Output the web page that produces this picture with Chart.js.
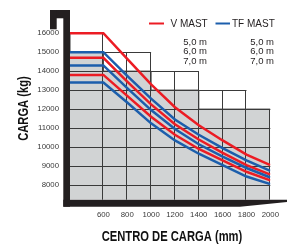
<!DOCTYPE html>
<html>
<head>
<meta charset="utf-8">
<script src="https://cdn.jsdelivr.net/npm/chart.js@4"></script>
<style>
  html, body { margin: 0; padding: 0; background: #fff; }
  #wrap { width: 289px; height: 244px; }
</style>
</head>
<body>
<div id="wrap"><canvas id="capChart" width="289" height="244"></canvas></div>
<script>
// load centre (mm) where each curve is sampled; 320 is the left edge of the plate
const loadCenters = [320, 600, 800, 1000, 1200, 1400, 1600, 1800, 2000];

// V MAST capacity (kg) for 5,0 / 6,0 / 7,0 m
const vMast50 = [16000, 16000, 14650, 13300, 12100, 11150, 10350, 9600, 9050];
const vMast60 = [14700, 14700, 13450, 12250, 11200, 10400, 9700, 9050, 8550];
const vMast70 = [13800, 13800, 12700, 11600, 10650, 9900, 9300, 8700, 8250];

// TF MAST capacity (kg)
const tfMast50 = [15000, 15000, 13750, 12550, 11450, 10650, 9950, 9300, 8750];
const tfMast60 = [14300, 14300, 13100, 11950, 10950, 10150, 9500, 8900, 8400];
const tfMast70 = [13400, 13400, 12350, 11250, 10350, 9650, 9050, 8450, 8050];

// grey stepped plate behind the curves
const stepX = [320, 600, 1000, 1400, 1800, 2000];
const stepTop = [16000, 15000, 14000, 13000, 12000, 12000];

const xTicks = [600, 800, 1000, 1200, 1400, 1600, 1800, 2000];
const yTicks = [8000, 9000, 10000, 11000, 12000, 13000, 14000, 15000, 16000];
const mastHeights = ['5,0 m', '6,0 m', '7,0 m'];

const RED = '#ec1c24';
const BLUE = '#1c5eac';
const sans = "'Liberation Sans', Arial, sans-serif";

const pts = vals => vals.map((v, i) => ({ x: loadCenters[i], y: v }));
const curve = (vals, color) => ({
    data: pts(vals),
    borderColor: color,
    borderWidth: 2.5,
    pointRadius: 0,
    tension: 0,
    fill: false,
    order: 0
});

// condensed bold text, like the printed sheet
function narrowText(ctx, text, x, y, rot) {
    ctx.save();
    ctx.translate(x, y);
    if (rot) ctx.rotate(rot);
    ctx.scale(0.8, 1);
    ctx.font = 'bold 14px ' + sans;
    ctx.fillStyle = '#111';
    ctx.textAlign = 'center';
    ctx.textBaseline = 'middle';
    ctx.fillText(text, 0, 0);
    ctx.restore();
}

const gridPlugin = {
    id: 'plateGrid',
    afterDatasetDraw(chart, args) {
        if (args.index !== 0) return;
        const ctx = chart.ctx;
        const xs = chart.scales.x, ys = chart.scales.y;
        ctx.save();
        ctx.strokeStyle = '#3a3a3a';
        ctx.lineWidth = 1;
        // vertical lines, up to the step on their left
        xTicks.forEach(c => {
            let h = stepTop[0];
            for (let i = 0; i < stepX.length - 1; i++) {
                if (c > stepX[i] && c <= stepX[i + 1]) h = stepTop[i];
            }
            const px = Math.round(xs.getPixelForValue(c)) - 0.5;
            ctx.beginPath();
            ctx.moveTo(px, ys.getPixelForValue(h));
            ctx.lineTo(px, ys.bottom);
            ctx.stroke();
        });
        // horizontal lines, as far right as the plate reaches
        yTicks.forEach(v => {
            let end = null;
            for (let i = 0; i < stepX.length - 1; i++) {
                if (stepTop[i] >= v) end = stepX[i + 1];
            }
            if (end === null) return;
            const py = Math.round(ys.getPixelForValue(v)) + 0.5;
            ctx.beginPath();
            ctx.moveTo(xs.left, py);
            ctx.lineTo(xs.getPixelForValue(end), py);
            ctx.stroke();
        });
        ctx.restore();
    },
    afterDraw(chart) {
        const ctx = chart.ctx;
        const L = chart.chartArea.left, B = chart.chartArea.bottom;
        ctx.save();
        // fork-like black frame
        ctx.fillStyle = '#231f20';
        ctx.fillRect(L - 6.7, 10, 6.7, B + 7 - 10);
        ctx.fillRect(L - 20, 10, 20, 8.3);
        ctx.fillRect(L - 20, 10, 6.7, 19.3);
        ctx.beginPath();
        ctx.moveTo(L - 6.7, B);
        ctx.lineTo(287, B);
        ctx.lineTo(287, B + 2.3);
        ctx.lineTo(240, B + 7);
        ctx.lineTo(L - 6.7, B + 7);
        ctx.closePath();
        ctx.fill();

        // legend
        ctx.lineWidth = 2;
        ctx.strokeStyle = RED;
        ctx.beginPath(); ctx.moveTo(149, 23.5); ctx.lineTo(164, 23.5); ctx.stroke();
        ctx.strokeStyle = BLUE;
        ctx.beginPath(); ctx.moveTo(215.5, 23.5); ctx.lineTo(230, 23.5); ctx.stroke();
        ctx.fillStyle = '#231f20';
        ctx.textBaseline = 'middle';
        ctx.font = '10px ' + sans;
        ctx.textAlign = 'left';
        ctx.fillText('V MAST', 170.5, 24);
        ctx.fillText('TF MAST', 232, 24);
        ctx.font = '9.5px ' + sans;
        ctx.textAlign = 'right';
        mastHeights.forEach((t, i) => {
            ctx.fillText(t, 207, 42.5 + i * 9.3);
            ctx.fillText(t, 274, 42.5 + i * 9.3);
        });
        ctx.restore();

        // axis titles
        narrowText(ctx, 'CENTRO DE CARGA (mm)', 172, 237, 0);
        narrowText(ctx, 'CARGA (kg)', 24, 108.5, -Math.PI / 2);
    }
};

new Chart(document.getElementById('capChart').getContext('2d'), {
    type: 'line',
    data: {
        datasets: [
            {
                data: stepX.map((c, i) => ({ x: c, y: stepTop[i] })),
                stepped: 'after',
                borderColor: '#3a3a3a',
                borderWidth: 1,
                backgroundColor: '#d1d3d4',
                pointRadius: 0,
                fill: 'start',
                order: 10
            },
            curve(tfMast70, BLUE),
            curve(vMast70, RED),
            curve(tfMast60, BLUE),
            curve(vMast60, RED),
            curve(tfMast50, BLUE),
            curve(vMast50, RED)
        ]
    },
    options: {
        responsive: false,
        animation: false,
        layout: { padding: { left: 0, right: 15.7, top: 17, bottom: 0 } },
        plugins: { legend: { display: false }, tooltip: { enabled: false } },
        scales: {
            x: {
                type: 'linear',
                min: 320,
                max: 2000,
                afterFit: s => { s.height = 44.3; },
                afterBuildTicks: s => { s.ticks = xTicks.map(v => ({ value: v })); },
                grid: { display: false, drawTicks: false },
                border: { display: false },
                ticks: {
                    font: { family: sans, size: 7.8 },
                    color: '#3a3a3a',
                    padding: 10,
                    maxRotation: 0,
                    callback: v => String(v)
                }
            },
            y: {
                min: 7230,
                max: 16850,
                afterFit: s => { s.width = 70; },
                afterBuildTicks: s => { s.ticks = yTicks.map(v => ({ value: v })); },
                grid: { display: false, drawTicks: false },
                border: { display: false },
                ticks: {
                    font: { family: sans, size: 7.8 },
                    color: '#3a3a3a',
                    padding: 11,
                    callback: v => String(v)
                }
            }
        }
    },
    plugins: [gridPlugin]
});
</script>
</body>
</html>
